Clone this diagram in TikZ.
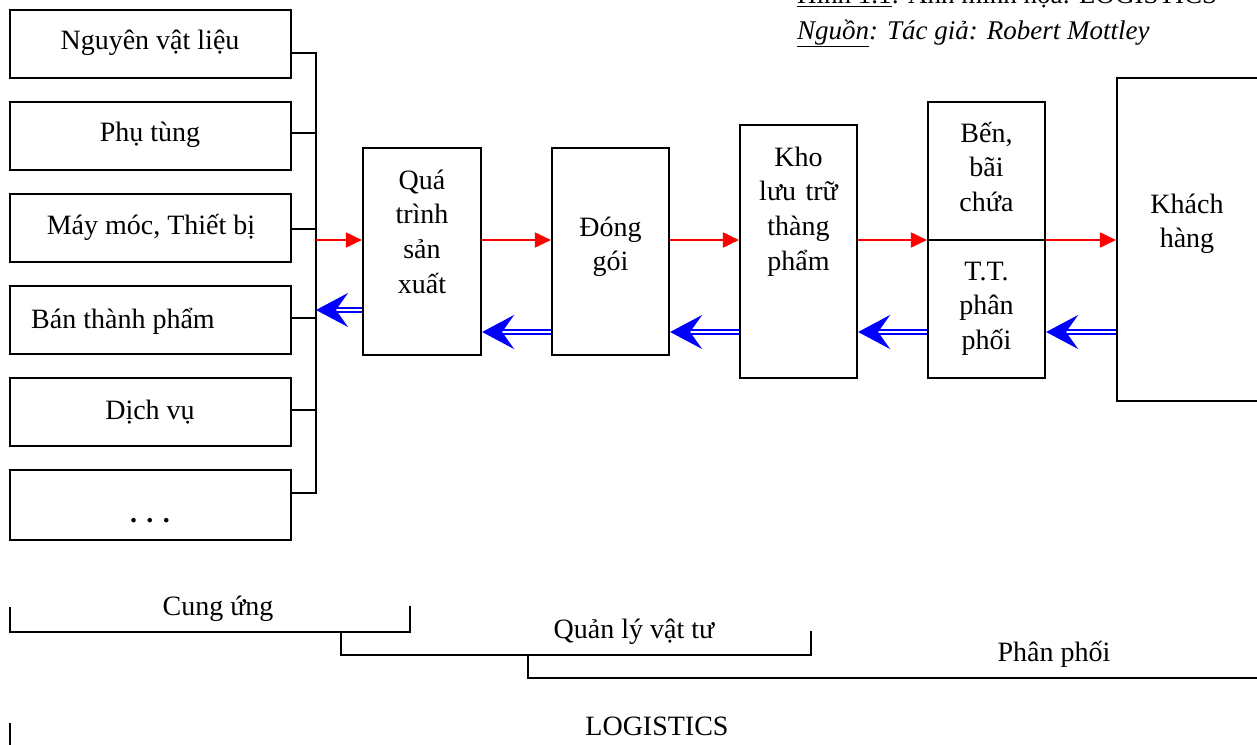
\documentclass[tikz,border=0pt]{standalone}
\usepackage{fontspec}
\setmainfont{Liberation Serif}
\usetikzlibrary{arrows.meta}
\begin{document}
\begin{tikzpicture}[x=1pt,y=-1pt,
  box/.style={draw, line width=2.2pt, inner sep=0pt},
  lbl/.style={font=\fontsize{28}{34.7}\selectfont, inner sep=0pt, anchor=base},
  ttl/.style={font=\fontsize{27}{34.7}\selectfont, inner sep=0pt, anchor=base west},
  mlbl/.style={lbl, text width=150pt, align=center},
  wire/.style={line width=2pt},
  fwd/.style={draw=red, line width=2pt, -{Triangle[length=16pt,width=15pt]}},
  bwd/.style={draw=blue, line width=2pt, double=white, double distance=2.2pt, -{Stealth[length=32pt,width=34pt,inset=12pt]}}]
\useasboundingbox (0,0) rectangle (1257,744);
\clip (0,0) rectangle (1257,744);

% title (partly cut off at top, as in the reference)
\node[ttl] (title) at (797,4) {\underline{Hình 1.1}: Ảnh minh họa: LOGISTICS};
\node[ttl] (src) at (797,39) {\itshape\underline{Nguồn}: Tác giả: Robert Mottley};

% left boxes
\node[box, minimum width=281pt, minimum height=68pt] (s1) at (150.5,44) {};
\node[box, minimum width=281pt, minimum height=68pt] (s2) at (150.5,136) {};
\node[box, minimum width=281pt, minimum height=68pt] (s3) at (150.5,228) {};
\node[box, minimum width=281pt, minimum height=68pt] (s4) at (150.5,320) {};
\node[box, minimum width=281pt, minimum height=68pt] (s5) at (150.5,412) {};
\node[box, minimum width=281pt, minimum height=70pt] (s6) at (150.5,505) {};
\node[lbl] (t1) at (150,49) {Nguyên vật liệu};
\node[lbl] (t2) at (150,141) {Phụ tùng};
\node[lbl] (t3) at (151,234) {Máy móc, Thiết bị};
\node[lbl] (t4) at (123,328) {Bán thành phẩm};
\node[lbl] (t5) at (150,419) {Dịch vụ};
\node[lbl] (t6) at (150,522) {\textbf{. . .}};

% bus
\coordinate (bt) at (316,53);
\coordinate (bb) at (316,493);
\coordinate (y2) at (0,133);
\coordinate (y3) at (0,229);
\coordinate (y4) at (0,318);
\coordinate (y5) at (0,410);
\draw[wire] (s1.east |- bt) -- (bt) -- (bb) -- (s6.east |- bb);
\draw[wire] (s2.east |- y2) -- (bt |- y2);
\draw[wire] (s3.east |- y3) -- (bt |- y3);
\draw[wire] (s4.east |- y4) -- (bt |- y4);
\draw[wire] (s5.east |- y5) -- (bt |- y5);

% main boxes
\node[box, minimum width=118pt, minimum height=207pt] (q) at (422,251.5) {};
\node[box, minimum width=117pt, minimum height=207pt] (d) at (610.5,251.5) {};
\node[box, minimum width=117pt, minimum height=253pt] (k) at (798.5,251.5) {};
\node[box, minimum width=117pt, minimum height=138pt] (b) at (986.5,171) {};
\node[box, minimum width=117pt, minimum height=138pt] (p) at (986.5,309) {};
\node[box, minimum width=170pt, minimum height=323pt] (kh) at (1202,239.5) {};

\node[mlbl] (tq) at (422,189) {Quá\\trình\\sản\\xuất};
\node[mlbl] (td) at (610.5,236) {Đóng\\gói};
\node[mlbl] (tk) at (798.5,166) {Kho\\lưu trữ\\thàng\\phẩm};
\node[mlbl] (tb) at (986.5,142) {Bến,\\bãi\\chứa};
\node[mlbl] (tp) at (986.5,280) {T.T.\\phân\\phối};
\node[mlbl] (tkh) at (1187,213) {Khách\\hàng};

% arrows
\coordinate (yr) at (0,240);
\coordinate (yb1) at (0,310);
\coordinate (yb) at (0,332);
\draw[fwd] (bt |- yr) -- (q.west |- yr);
\draw[fwd] (q.east |- yr) -- (d.west |- yr);
\draw[fwd] (d.east |- yr) -- (k.west |- yr);
\draw[fwd] (k.east |- yr) -- (b.west |- yr);
\draw[fwd] (b.east |- yr) -- (kh.west |- yr);
\draw[bwd] (q.west |- yb1) -- (bt |- yb1);
\draw[bwd] (d.west |- yb) -- (q.east |- yb);
\draw[bwd] (k.west |- yb) -- (d.east |- yb);
\draw[bwd] (p.west |- yb) -- (k.east |- yb);
\draw[bwd] (kh.west |- yb) -- (p.east |- yb);

% bottom brackets
\coordinate (c1) at (10,607);
\coordinate (c2) at (10,632);
\coordinate (c3) at (410,632);
\coordinate (c4) at (410,606);
\draw[wire] (c1) -- (c2) -- (c3) -- (c4);
\coordinate (m1) at (341,632);
\coordinate (m2) at (341,655);
\coordinate (m3) at (811,655);
\coordinate (m4) at (811,631);
\draw[wire] (m1) -- (m2) -- (m3) -- (m4);
\coordinate (f1) at (528,655);
\coordinate (f2) at (528,678);
\coordinate (f3) at (1260,678);
\draw[wire] (f1) -- (f2) -- (f3);
\coordinate (g1) at (10,723);
\coordinate (g2) at (10,748);
\draw[wire] (g1) -- (g2);
\node[lbl] (lc) at (218,615) {Cung ứng};
\node[lbl] (lq) at (634,638) {Quản lý vật tư};
\node[lbl] (lp) at (1054,661) {Phân phối};
\node[lbl] (ll) at (657,735) {LOGISTICS};
\end{tikzpicture}
\end{document}
